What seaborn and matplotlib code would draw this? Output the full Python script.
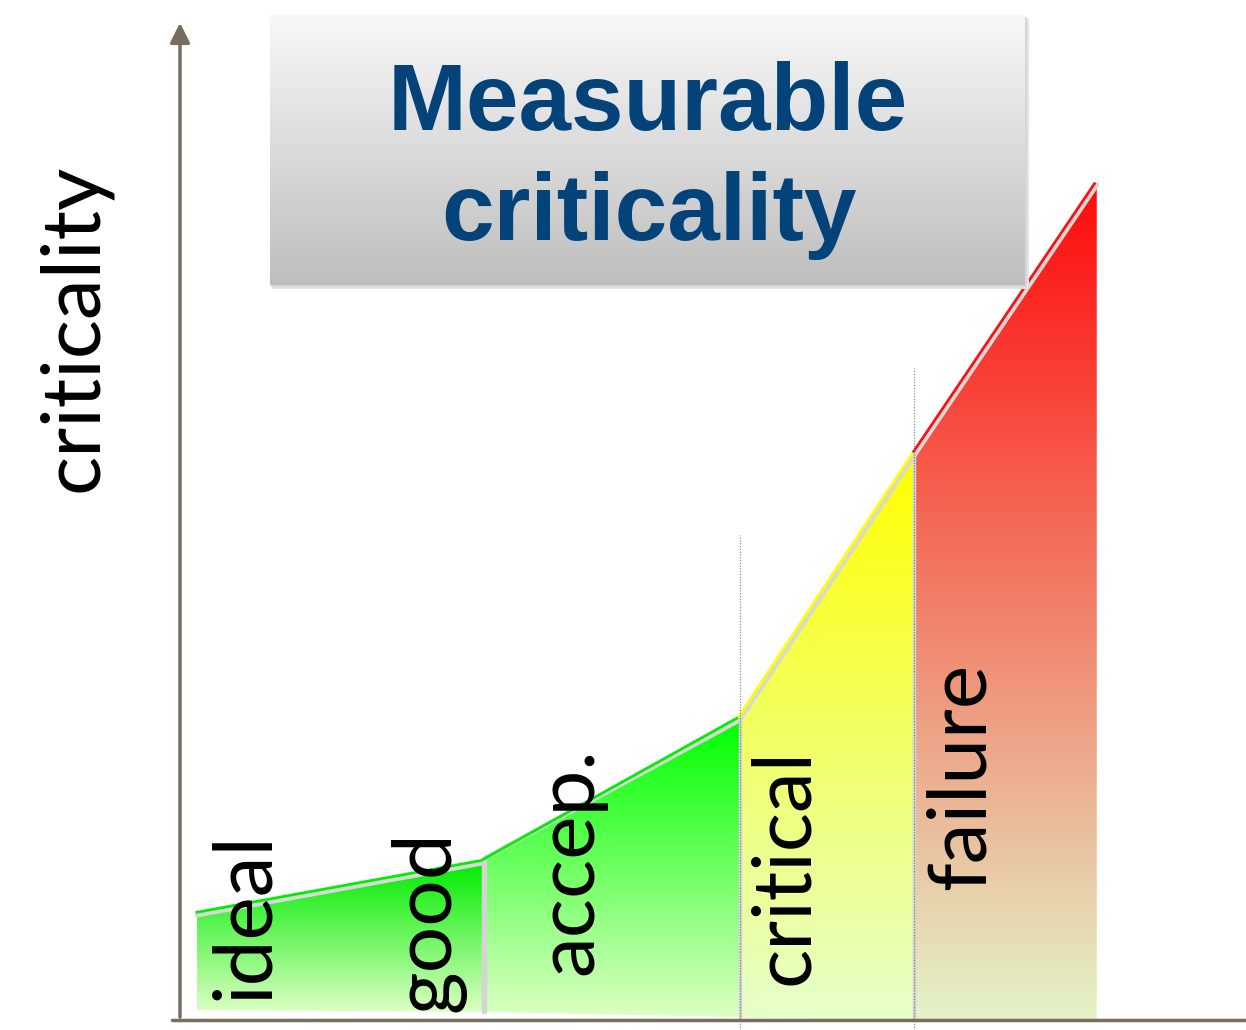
import numpy as np
import matplotlib
matplotlib.use("Agg")
import matplotlib.pyplot as plt
import matplotlib.transforms as mtransforms
from matplotlib.colors import LinearSegmentedColormap
from matplotlib.patches import Rectangle
import seaborn as sns

# ---- data ----
zone_labels = ["ideal", "good", "accep.", "critical", "failure"]
# the filled segments (ideal+good share one shape)
seg_x0 = [0.16, 2.86, 5.25, 6.89]
seg_x1 = [2.84, 5.25, 6.89, 8.60]
seg_top0 = [1.05, 1.62, 3.00, 5.65]
seg_top1 = [1.57, 3.00, 5.65, 8.35]
seg_base0 = [0.10, 0.08, 0.02, 0.00]
seg_base1 = [0.08, 0.03, 0.00, -0.02]
seg_color_top = ["#00ec00", "#00ff00", "#ffff00", "#ff0a0a"]
seg_color_bottom = ["#dcffc4", "#dcffc4", "#e6ffca", "#e4f4c8"]
seg_edge = ["#00ee00", "#00ee00", "#ffff00", "#ff1010"]
# dotted threshold marks (critical, failure)
thresh_x = [5.25, 6.89]
thresh_top = [4.85, 6.52]

sns.set_theme(style="white")
plt.rcParams['font.family'] = ['Lato', 'DejaVu Sans']

W, H = 1246, 1030
fig = plt.figure(figsize=(W / 100, H / 100), dpi=100)
fig.patch.set_facecolor("white")

ax = fig.add_axes([180 / W, 10 / H, 1066 / W, 1020 / H])
ax.set_facecolor("none")

# gradient filled segments
grad = np.linspace(0, 1, 256).reshape(-1, 1)
for i in range(len(seg_x0)):
    xs = [seg_x0[i], seg_x1[i]]
    fb = ax.fill_between(xs, [seg_base0[i], seg_base1[i]], [seg_top0[i], seg_top1[i]],
                         facecolor="none", edgecolor="none")
    cmap = LinearSegmentedColormap.from_list("g%d" % i, [seg_color_bottom[i], seg_color_top[i]])
    im = ax.imshow(grad, extent=[seg_x0[i], seg_x1[i], min(seg_base0[i], seg_base1[i]),
                                 max(seg_top0[i], seg_top1[i])],
                   origin="lower", aspect="auto", cmap=cmap, zorder=1)
    im.set_clip_path(fb.get_paths()[0], transform=ax.transData)

# gray bevel along the profile and side edges
for i in range(len(seg_x0)):
    sns.lineplot(x=[seg_x0[i], seg_x1[i]], y=[seg_top0[i], seg_top1[i]], ax=ax,
                 color="#d8d8d8", lw=3.5, zorder=3, sort=False)
    if i > 0:
        ax.plot([seg_x0[i], seg_x0[i]], [seg_base0[i], seg_top0[i]], color="#d4d4d4", lw=2.5, zorder=3)
ax.plot([seg_x1[0], seg_x1[0]], [seg_base1[0], seg_top1[0]], color="#d4d4d4", lw=2.5, zorder=3)

# coloured top edges, shifted slightly up
shift = mtransforms.offset_copy(ax.transData, fig=fig, x=-1.5, y=2.5, units="dots")
for i in range(len(seg_x0)):
    x_start = seg_x1[i - 1] if i == 1 else seg_x0[i]
    y_start = seg_top1[i - 1] if i == 1 else seg_top0[i]
    ax.plot([x_start, seg_x1[i]], [y_start, seg_top1[i]], color=seg_edge[i], lw=2,
            transform=shift, zorder=4, solid_capstyle="butt")

# dotted thresholds
for tx, tt in zip(thresh_x, thresh_top):
    ax.plot([tx, tx], [-0.1, tt], color="#7a7a7a", lw=0.8, ls=(0, (1, 1.5)), zorder=5, clip_on=False)

# axes lines
axis_col = "#786e60"
ax.plot([-0.075, 10], [0, 0], color=axis_col, lw=2.5, clip_on=False, zorder=6)
ax.annotate("", xy=(0, 10.0), xytext=(0, 0), xycoords="data",
            arrowprops=dict(arrowstyle="-|>", color=axis_col, lw=2.5, mutation_scale=30),
            annotation_clip=False, zorder=6)

# zone labels
label_pos = [(0.826, 0.20), (2.53, 0.08), (3.865, 0.45), (5.89, 0.35), (7.55, 1.30)]
for lab, (lx, ly) in zip(zone_labels, label_pos):
    ax.text(lx, ly, lab, rotation=90, rotation_mode="anchor", ha="left", va="baseline",
            fontsize=59, color="black", zorder=7)

ax.set_xlim(0, 10)
ax.set_ylim(0, 10.2)
ax.axis("off")

# y label
fig.text(97 / W, 1 - 492 / H, "criticality", rotation=90, rotation_mode="anchor",
         ha="left", va="baseline", fontsize=59, color="black")

# title box with gradient and soft shadow
bx0, by0, bx1, by1 = 270, 15, 1025, 285
for k, col in enumerate(["#e4e4e4", "#d6d6d6"]):
    off = 4 - 2 * k
    sax = fig.add_axes([(bx0 + off / 2) / W, 1 - (by1 + off) / H, (bx1 - bx0 + off / 2) / W,
                        (by1 - by0) / H])
    sax.add_patch(Rectangle((0, 0), 1, 1, facecolor=col, edgecolor="none"))
    sax.axis("off")
tax = fig.add_axes([bx0 / W, 1 - by1 / H, (bx1 - bx0) / W, (by1 - by0) / H])
tax.imshow(grad, origin="lower", aspect="auto", extent=[0, 1, 0, 1],
           cmap=LinearSegmentedColormap.from_list("box", ["#bebebe", "#f8f8f8"]))
tax.set_xlim(0, 1)
tax.set_ylim(0, 1)
tax.axis("off")

title_kw = dict(ha="center", va="baseline", fontsize=68, fontweight="bold",
                color="#03437a", family=["Liberation Sans", "DejaVu Sans"])
fig.text(648 / W, 1 - 130 / H, "Measurable", **title_kw)
fig.text(649 / W, 1 - 240 / H, "criticality", **title_kw)

fig.savefig("out.png", dpi=100)
